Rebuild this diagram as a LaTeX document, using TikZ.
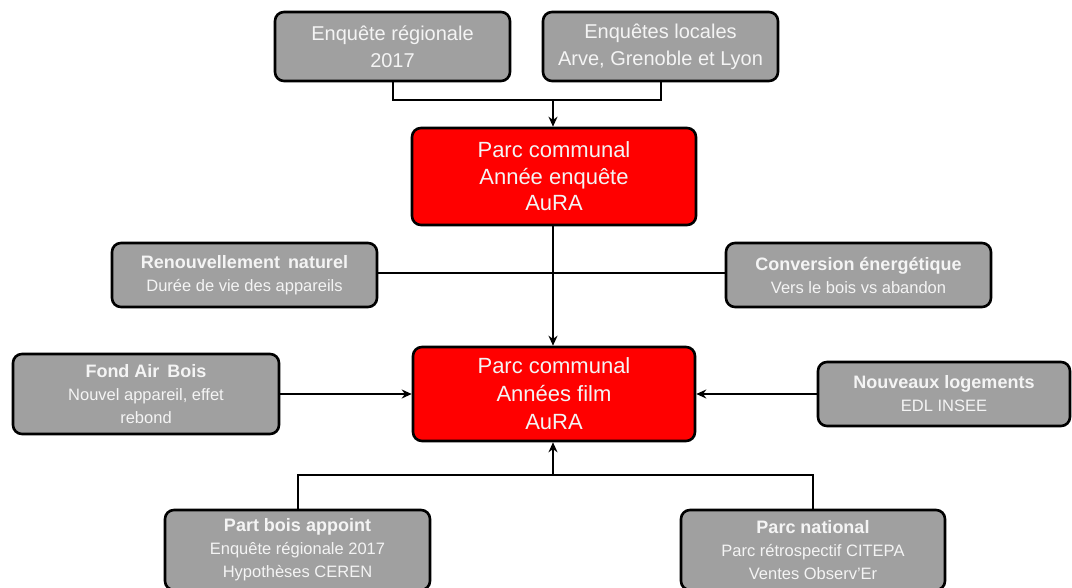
\documentclass[tikz,border=0pt]{standalone}
\usepackage{fontspec}
\setmainfont{Liberation Sans}
\usetikzlibrary{arrows.meta}
\definecolor{boxgray}{HTML}{A0A0A0}
\definecolor{boxred}{HTML}{FF0000}
\definecolor{txtwhite}{HTML}{F4F4F4}
\tikzset{
  base/.style={draw=black, line width=2.6pt, rounded corners=9pt, text=txtwhite, align=center, inner sep=0pt},
  topbox/.style={base, fill=boxgray, minimum width=235pt, minimum height=69pt, font=\fontsize{20}{27}\selectfont},
  redbox/.style={base, fill=boxred, minimum width=284pt},
  sidebox/.style={base, fill=boxgray, font=\fontsize{16.5}{23}\selectfont},
  conn/.style={line width=2pt, draw=black},
  arr/.style={conn, -{Stealth[length=10pt,width=9pt]}},
}
\newcommand{\ttl}[1]{{\bfseries\fontsize{18}{23}\selectfont #1}}
\begin{document}
\begin{tikzpicture}[x=1pt,y=-1pt]
\useasboundingbox (0,0) rectangle (1072,588);
% top
\node[topbox] (t1) at (392.5,46.5) {Enquête régionale\\2017};
\node[topbox] (t2) at (660.5,46.5) {Enquêtes locales\\Arve, Grenoble et Lyon};
% red
\node[redbox, minimum height=97pt, font=\fontsize{22}{26.5}\selectfont] (r1) at (554,176.5) {Parc communal\\Année enquête\\AuRA};
\node[redbox, minimum height=94pt, minimum width=282pt, font=\fontsize{22}{28}\selectfont] (r2) at (554,394) {Parc communal\\Années film\\AuRA};
% sides
\node[sidebox, minimum width=265pt, minimum height=64pt] (ren) at (244.5,275) {\ttl{Renouvellement\, naturel}\\Durée de vie des appareils};
\node[sidebox, minimum width=265pt, minimum height=64pt] (conv) at (858.5,275) {\ttl{Conversion énergétique}\\Vers le bois vs abandon};
\node[sidebox, minimum width=266pt, minimum height=80pt] (fab) at (146,394) {\ttl{Fond Air\, Bois}\\Nouvel appareil, effet\\rebond};
\node[sidebox, minimum width=252pt, minimum height=64pt] (nlog) at (944,394) {\ttl{Nouveaux logements}\\EDL INSEE};
\node[sidebox, minimum width=265pt, minimum height=80pt] (pba) at (297.5,550) {\ttl{Part bois appoint}\\Enquête régionale 2017\\Hypothèses CEREN};
\node[sidebox, minimum width=264pt, minimum height=80pt] (pn) at (813,550) {\ttl{Parc national}\\Parc rétrospectif CITEPA\\Ventes Observ’Er};
% connectors top
\coordinate (tj) at (553,100);
\draw[conn] (t1.south) |- (tj) -| (t2.south);
\draw[arr] (tj) -- (r1.north -| tj);
% middle
\coordinate (mj) at (553,273);
\draw[arr] (r1.south -| mj) -- (r2.north -| mj);
\draw[conn] (ren.east |- mj) -- (mj) -- (conv.west |- mj);
\draw[arr] (fab.east) -- (r2.west |- fab.east);
\draw[arr] (nlog.west) -- (r2.east |- nlog.west);
% bottom
\coordinate (bj) at (553,475);
\draw[conn] (pba.north) |- (bj) -| (pn.north);
\draw[arr] (bj) -- (r2.south -| bj);
\end{tikzpicture}
\end{document}
